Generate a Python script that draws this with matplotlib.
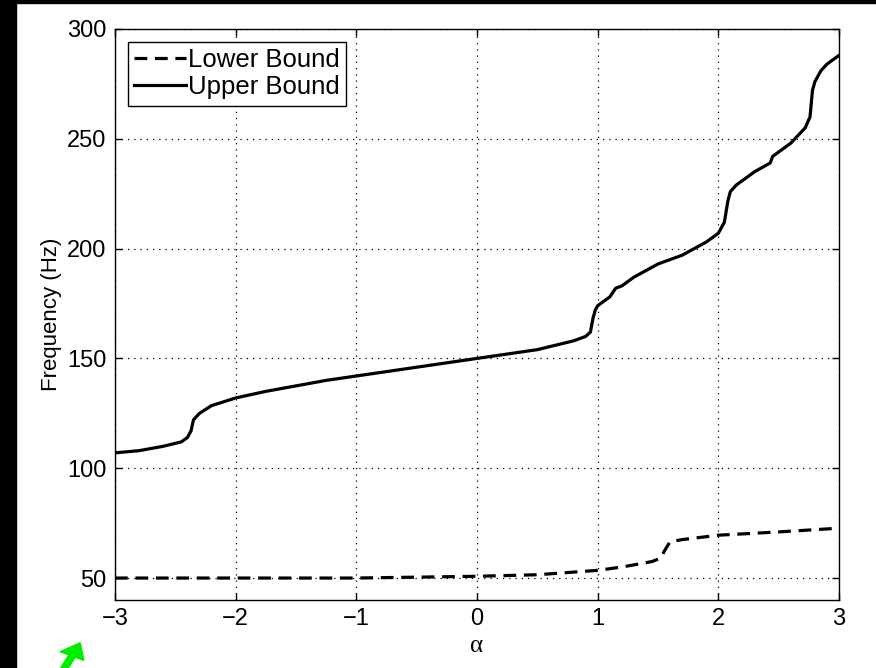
import matplotlib

matplotlib.use("Agg")
import matplotlib.patches as patch
import matplotlib.pyplot as plt

# Values
alpha_upper = [-3.0, -2.8, -2.6, -2.45, -2.40, -2.37, -2.35, -2.3, -2.2, -2.0,
               -1.75, -1.5, -1.25, -1.0, -0.75, -0.5, -0.25, 0.0, 0.25, 0.5,
               0.65, 0.8, 0.9, 0.94, 0.96, 0.98, 1.0, 1.1, 1.15, 1.2, 1.3,
               1.5, 1.7, 1.9, 2.0, 2.05, 2.08, 2.1, 2.15, 2.3, 2.43, 2.45,
               2.6, 2.72, 2.76, 2.78, 2.8, 2.85, 2.9, 3.0]
freq_upper = [107, 108, 110, 112, 114, 117, 122, 125, 128.5, 132,
              135, 137.5, 140, 142, 144, 146, 148, 150, 152, 154,
              156, 158, 160, 162, 168, 172, 174, 178, 182, 183, 187,
              193, 197, 203, 207, 212, 222, 226, 229, 235, 239, 242,
              248, 255, 260, 272, 276, 281, 284, 288]

alpha_lower = [-3.0, -2.0, -1.0, 0.0, 0.5, 1.0, 1.2, 1.45, 1.52, 1.56, 1.6,
               1.7, 2.0, 2.5, 3.0]
freq_lower = [50, 50, 50, 50.8, 51.5, 53.5, 55, 57.5, 59, 63, 66.5,
              67.5, 69.5, 71, 72.7]

x_ticks = [-3, -2, -1, 0, 1, 2, 3]
x_tick_labels = ["\u22123", "\u22122", "\u22121", "0", "1", "2", "3"]
y_ticks = [50, 100, 150, 200, 250, 300]

plt.rcParams["font.family"] = ["Liberation Sans", "DejaVu Sans"]

fig = plt.figure(figsize=(8.76, 6.68), dpi=100)
fig.patch.set_facecolor("white")
ax = fig.add_axes([115 / 876, 68 / 668, 724 / 876, 571 / 668])

ax.plot(alpha_lower, freq_lower, color="black", lw=2.3, dashes=(4, 2.4),
        label="Lower Bound")
ax.plot(alpha_upper, freq_upper, color="black", lw=2.3, label="Upper Bound")

ax.set_xlim(-3, 3)
ax.set_ylim(40, 300)
ax.set_xticks(x_ticks)
ax.set_xticklabels(x_tick_labels)
ax.set_yticks(y_ticks)
ax.tick_params(direction="in", top=True, right=True, length=5, width=1,
               labelsize=17, pad=6, colors="black")
ax.grid(True, color="black", lw=0.9, linestyle=(0, (1, 4)))
for s in ax.spines.values():
    s.set_linewidth(1.0)

ax.set_xlabel("\u03b1", fontsize=18, labelpad=3, family="Liberation Serif")
ax.set_ylabel("Frequency (Hz)", fontsize=16, labelpad=4)

leg = ax.legend(loc="upper left", fontsize=18.5, handlelength=2.0,
                handletextpad=0.1, borderpad=0.25, labelspacing=0.12,
                borderaxespad=0.5, fancybox=False, framealpha=1)
leg.get_frame().set_edgecolor("black")
leg.get_frame().set_linewidth(1.0)

# black border strips from the screenshot
fig.add_artist(patch.Rectangle((0, 0), 16 / 876, 1, transform=fig.transFigure,
                               color="black", zorder=10))
fig.add_artist(patch.Rectangle((0, 665 / 668), 1, 3 / 668,
                               transform=fig.transFigure, color="black",
                               zorder=10))
# green arrow in the lower left corner
fig.add_artist(patch.FancyArrow(62 / 876, -4 / 668, 10 / 876, 16 / 668,
                                width=0.008, head_width=0.03,
                                head_length=0.022, color="#00ee00",
                                transform=fig.transFigure, zorder=10))

fig.savefig("out.png", dpi=100)
